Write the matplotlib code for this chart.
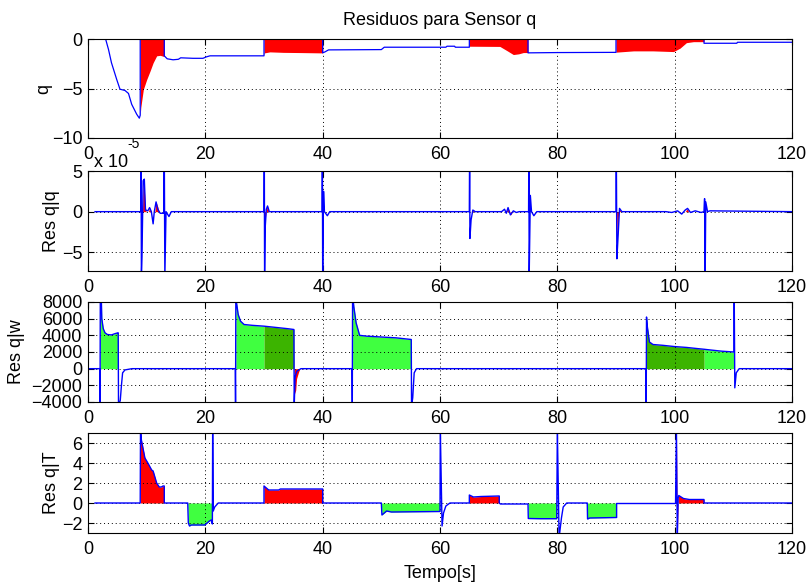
import numpy as np
import matplotlib
matplotlib.use("Agg")
import matplotlib.pyplot as plt

plt.rcParams['font.family'] = ['Liberation Sans', 'DejaVu Sans']

BLUE = '#0000ff'
RED = '#ff0000'
GREEN = '#40ff40'
DARK_GREEN = '#3cb400'

x_ticks = [0, 20, 40, 60, 80, 100, 120]

# ---- q (sensor signal) ----
q_t = [0, 3.0, 3.5, 4.0, 4.9, 5.45, 6.3, 6.9, 7.45, 8.3, 8.75, 8.9, 8.9, 13.0, 13.0, 13.5,
       14.5, 15.4, 15.8, 17.9, 19.6, 20.2, 20.8, 30.0, 30.0, 40.0, 40.0, 40.4, 41.0, 50.0,
       50.5, 61.0, 61.2, 62.5, 62.6, 65.0, 65.0, 75.0, 75.0, 80.0, 90.0, 90.0, 105.0, 105.0,
       110.6, 110.7, 120.0]
q_v = [0, 0, -1.07, -2.4, -4.1, -5.07, -5.2, -5.5, -6.6, -7.6, -8.0, -7.7, 0, 0, -1.7, -2.0,
       -2.1, -2.05, -1.9, -1.95, -1.95, -1.8, -1.7, -1.7, 0, 0, -1.4, -1.3, -1.1, -1.07,
       -0.83, -0.83, -0.73, -0.73, -0.83, -0.83, 0, 0, -1.4, -1.37, -1.35, 0, 0, -0.43,
       -0.43, -0.33, -0.33]
q_fault_t = [8.9, 9.0, 9.43, 10.0, 10.6, 11.1, 11.7, 12.3, 12.85, 13.0, 13.0,
             30.0, 30.0, 30.1, 31.0, 33.3, 36.1, 39.5, 40.0, 40.0,
             65.0, 65.0, 70.2, 71.4, 72.5, 73.4, 74.2, 75.0, 75.0,
             90.0, 90.0, 93.0, 96.3, 99.8, 100.9, 102.0, 103.2, 104.9, 105.0, 105.0]
q_fault_v = [-7.7, -6.9, -5.1, -4.1, -3.2, -2.4, -1.7, -1.65, -1.75, -1.75, 0,
             0, -1.6, -1.4, -1.3, -1.35, -1.37, -1.4, -1.4, 0,
             0, -0.73, -0.75, -1.17, -1.57, -1.5, -1.37, -1.37, 0,
             0, -1.33, -1.2, -1.2, -1.27, -0.93, -0.37, -0.27, -0.27, -0.25, 0]

# ---- Res q|q (units of 1e-5) ----
rqq_t = [1.2, 9.0, 9.05, 9.1, 9.2, 9.4, 9.6, 9.8, 10.2, 10.5, 10.8, 11.1, 11.3, 11.6, 11.9,
         12.3, 12.9, 13.0, 13.1, 13.3, 13.8, 14.2, 30.0, 30.05, 30.1, 30.2, 30.4, 30.6, 30.9,
         39.9, 39.95, 40.0, 40.15, 40.3, 40.8, 41.2, 65.0, 65.05, 65.1, 65.3, 65.6, 66.0,
         70.5, 71.0, 71.3, 71.6, 72.0, 72.5, 73.0, 73.5, 75.1, 75.15, 75.2, 75.4, 75.6, 76.0,
         76.5, 90.0, 90.05, 90.15, 90.3, 90.6, 91.0, 98.5, 99.5, 100.5, 101.2, 101.8, 102.2,
         102.7, 103.5, 104.5, 105.0, 105.1, 105.2, 105.3, 105.6, 106.0, 120.0]
rqq_v = [0, 0, 8, -8, -5.5, 3.8, 4.0, 0.2, 0.1, 0.5, 0, -1.5, 0, 1.2, 0.3,
         -0.2, -0.2, 8, -8, 0, -0.6, 0, 0, 8, -8, -2.0, 0.3, 0.7, 0,
         0, 8, -8, 2.5, 0, -0.5, 0, 0, 8, -3.3, -1.0, 0.2, 0,
         0, 0.3, -0.2, 0.5, -0.4, 0.1, -0.1, 0, 0, 8, -8, 2.0, 0, -0.5,
         0, 0, 8, -5.8, -3.8, 0.4, 0, 0, -0.1, 0.1, -0.3, 0.2, 0.4,
         -0.1, 0.1, -0.1, 0, 1.6, -8, 1.2, 0, 0.1, 0]
rqq_fault_t = [9.05, 9.1, 9.2, 9.3, 9.4, 9.55, 9.7, 9.9, 10.3, 10.5, 10.7, 11.4, 11.6, 11.9,
               12.1, 29.9, 30.1, 30.2, 30.35, 30.5, 30.6, 30.8, 65.5, 65.7, 65.9, 71.3,
               71.6, 71.9, 72.1, 72.3, 90.1, 90.2, 90.3, 90.45, 90.6, 90.8, 101.8, 102.1,
               102.4]
rqq_fault_v = [0, -5.5, -3, 0, 3.5, 4.0, 1.0, 0, 0, 0.5, 0, 0, 1.2, 0.6,
               0, 0, -2.0, -1.0, 0, 0.5, 0.7, 0, 0, 0.2, 0, 0,
               0.4, 0, -0.4, 0, 0, -3.8, -2.5, 0, 0.4, 0, 0, 0.35,
               0]

# ---- Res q|w ----
rqw_t = [0, 2.0, 2.05, 2.1, 2.25, 2.35, 2.6, 2.9, 3.3, 4.0, 4.6, 5.1, 5.15, 5.2, 5.5, 5.7,
         5.9, 6.3, 7.5, 25.1, 25.15, 25.2, 25.3, 25.6, 26.0, 26.6, 28.0, 30.0, 32.0, 34.0,
         35.1, 35.15, 35.3, 35.6, 36.3, 45.0, 45.05, 45.1, 45.3, 45.7, 46.3, 47.5, 50.0,
         52.5, 55.1, 55.15, 55.35, 55.6, 56.0, 95.1, 95.15, 95.2, 95.35, 95.7, 96.3, 98.0,
         100.0, 102.0, 104.0, 105.0, 106.0, 108.0, 110.1, 110.15, 110.25, 110.5, 111.0,
         120.0]
rqw_v = [0, 0, -4500, 9000, 9000, 6000, 4800, 4300, 4100, 4050, 4200, 4300, 4300, -4500,
         -3800, -2000, -500, -150, 0, 0, -4500, 9000, 8000, 6500, 5700, 5300, 5200, 5100,
         4950, 4800, 4700, -4500, -1000, -300, 0, 0, -4500, 9000, 7500, 5500, 4000, 3900,
         3800, 3700, 3500, -4500, -3500, -500, 0, 0, -4500, 6200, 5000, 3200, 2900, 2800,
         2650, 2550, 2400, 2330, 2250, 2100, 2000, 9000, -2300, -500, 0, 0]
rqw_green = [(2.1, 5.15), (25.2, 30.0), (45.1, 55.1), (105.0, 110.1)]
rqw_dark = [(30.0, 35.1), (95.2, 105.0)]
rqw_fault_t = [35.15, 35.2, 35.4, 35.55, 35.85, 36.1]
rqw_fault_v = [-3100, -3000, -2600, -1200, -500, 0]

# ---- Res q|T ----
rqt_t = [1.2, 8.9, 8.95, 9.1, 9.7, 10.3, 10.85, 11.1, 11.7, 12.15, 12.5, 12.8, 13.0, 13.0,
         17.0, 17.1, 17.3, 17.6, 19.9, 20.3, 20.7, 21.0, 21.2, 21.25, 21.35, 21.6, 22.2,
         30.0, 30.0, 30.8, 32.5, 32.8, 40.0, 40.0, 50.0, 50.1, 50.9, 51.7, 60.0, 60.05,
         60.35, 60.6, 61.0, 61.7, 65.0, 65.0, 65.7, 67.0, 70.1, 70.1, 70.3, 75.0, 75.05,
         77.0, 79.9, 80.0, 80.3, 80.7, 81.0, 81.6, 85.1, 85.15, 85.5, 90.1, 90.1, 100.15,
         100.3, 100.45, 100.6, 100.7, 101.5, 102.5, 105.0, 105.0, 120.0]
rqt_v = [0, 0, 7.5, 6.3, 4.5, 3.9, 3.3, 3.2, 2.0, 1.6, 1.6, 1.7, 1.7, 0,
         0, -2.0, -2.3, -2.2, -2.2, -2.0, -1.8, -1.7, -2.1, 7.5, -0.8, -0.4, 0,
         0, 1.7, 1.3, 1.3, 1.4, 1.4, 0, 0, -1.2, -0.8, -0.9, -0.85, 7.5,
         -2.3, -1.0, -0.3, 0, 0, 0.8, 0.6, 0.65, 0.7, 0, -0.1, -0.1, -1.55,
         -1.57, -1.57, 7.5, -3.5, -1.5, -0.4, 0, 0, -1.6, -1.5, -1.45, -0.05, -0.05,
         7.5, -3.5, 0.5, 0.75, 0.45, 0.35, 0.35, 0, 0]
rqt_red = [(8.95, 13.0), (30.0, 40.0), (65.0, 70.1), (100.15, 105.0)]
rqt_green = [(17.0, 21.2), (50.0, 60.0), (75.0, 79.9), (85.1, 90.1)]

fig = plt.figure(figsize=(8.09, 5.82), dpi=100)
L, W = 88 / 809, 704 / 809
ax1 = fig.add_axes([L, 1 - 138 / 582, W, 99 / 582])
ax2 = fig.add_axes([L, 1 - 271 / 582, W, 100 / 582])
ax3 = fig.add_axes([L, 1 - 402 / 582, W, 100 / 582])
ax4 = fig.add_axes([L, 1 - 533 / 582, W, 100 / 582])


def fill_ranges(ax, t, v, ranges, color):
    t = np.asarray(t)
    v = np.asarray(v)
    for a, b in ranges:
        m = (t >= a - 1e-9) & (t <= b + 1e-9)
        ax.fill_between(t[m], 0, v[m], color=color, linewidth=0, zorder=1)


# q
ax1.fill_between(q_fault_t, 0, q_fault_v, color=RED, linewidth=0, zorder=1)
ax1.plot(q_t, q_v, color=BLUE, lw=0.9, zorder=3)
ax1.set_ylim(-10, 0)
ax1.set_yticks([-10, -5, 0])
ax1.set_ylabel('q')

# Res q|q
ax2.fill_between(rqq_fault_t, 0, rqq_fault_v, color=RED, linewidth=0, zorder=1)
ax2.plot(rqq_t, rqq_v, color=BLUE, lw=1.0, zorder=3)
ax2.set_ylim(-7.3, 5)
ax2.set_yticks([-5, 0, 5])
ax2.set_ylabel('Res q|q')

# Res q|w
fill_ranges(ax3, rqw_t, rqw_v, rqw_green, GREEN)
fill_ranges(ax3, rqw_t, rqw_v, rqw_dark, DARK_GREEN)
ax3.fill_between(rqw_fault_t, 0, rqw_fault_v, color=RED, linewidth=0, zorder=1)
ax3.plot(rqw_t, rqw_v, color=BLUE, lw=1.0, zorder=3)
ax3.set_ylim(-4000, 8000)
ax3.set_yticks(np.arange(-4000, 8001, 2000))
ax3.set_ylabel('Res q|w')

# Res q|T
fill_ranges(ax4, rqt_t, rqt_v, rqt_red, RED)
fill_ranges(ax4, rqt_t, rqt_v, rqt_green, GREEN)
ax4.plot(rqt_t, rqt_v, color=BLUE, lw=1.0, zorder=3)
ax4.set_ylim(-3, 7)
ax4.set_yticks([-2, 0, 2, 4, 6])
ax4.set_ylabel('Res q|T')
ax4.set_xlabel('Tempo[s]', fontsize=13, labelpad=5)

label_x = [-0.051, -0.040, -0.0895, -0.040]
for ax, lx in zip([ax1, ax2, ax3, ax4], label_x):
    ax.set_xlim(0, 120)
    ax.set_xticks(x_ticks)
    ax.grid(True, color='k', linestyle=(0, (1, 3)), linewidth=0.7)
    ax.set_axisbelow(False)
    ax.tick_params(direction='in', length=4, width=0.8, top=True, right=True,
                   labelsize=13, color='k')
    ax.tick_params(axis='x', pad=6)
    ax.tick_params(axis='y', pad=4)
    for s in ax.spines.values():
        s.set_linewidth(0.8)
        s.set_zorder(5)
    ax.yaxis.label.set_fontsize(13)
    ax.yaxis.set_label_coords(lx, 0.5)
    for gl in ax.get_xgridlines() + ax.get_ygridlines():
        gl.set_zorder(2)

ax1.set_title('Residuos para Sensor q', fontsize=13, pad=10)

# exponent for the Res q|q axis
fig.text(94 / 809, 1 - 167 / 582, 'x 10', fontsize=13, ha='left', va='baseline')
fig.text(127 / 809, 1 - 148 / 582, '-5', fontsize=10, ha='left', va='baseline')

fig.savefig('out.png', dpi=100)
